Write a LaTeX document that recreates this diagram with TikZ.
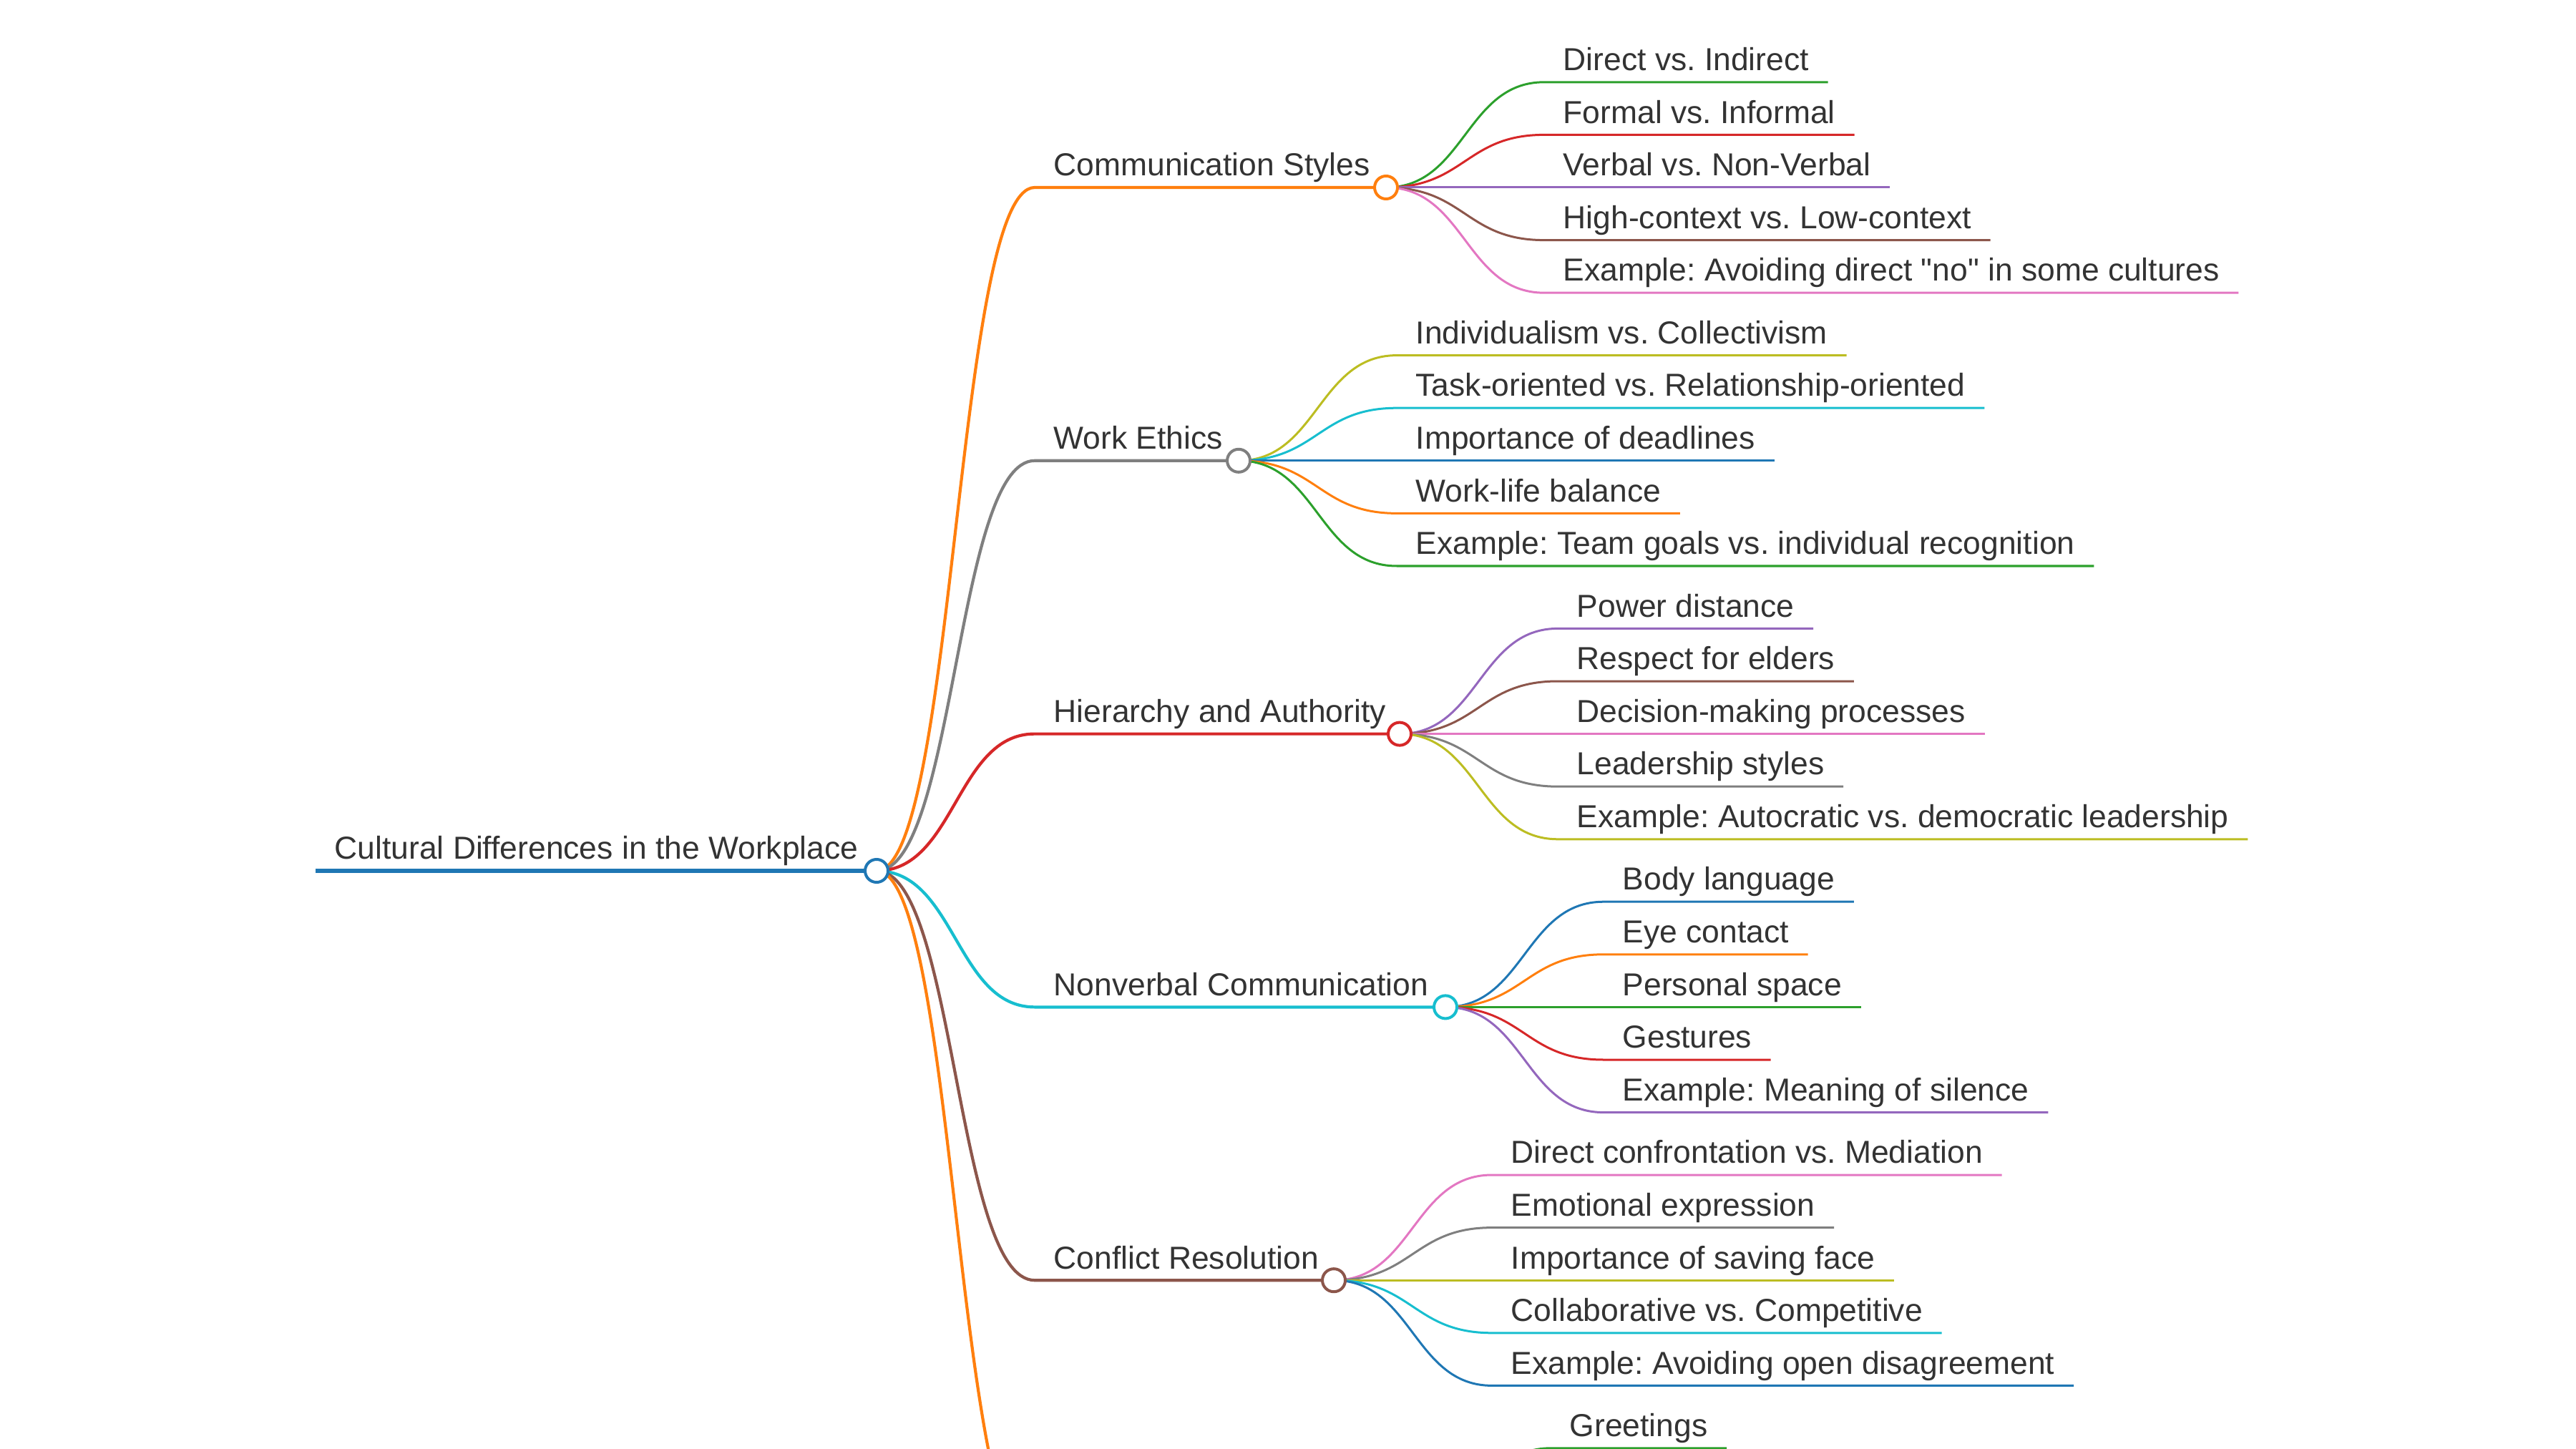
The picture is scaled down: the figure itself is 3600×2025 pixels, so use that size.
\documentclass[tikz,border=0pt]{standalone}
\usepackage{fontspec}
\setmainfont{Liberation Sans}
\usepackage{tikz}
\usetikzlibrary{positioning}
\usetikzlibrary{calc}
\usepackage{xcolor}

\definecolor{ink}{HTML}{333333}
\definecolor{tabblue}{HTML}{1F77B4}
\definecolor{taborange}{HTML}{FF7F0E}
\definecolor{tabgreen}{HTML}{2CA02C}
\definecolor{tabred}{HTML}{D62728}
\definecolor{tabpurple}{HTML}{9467BD}
\definecolor{tabbrown}{HTML}{8C564B}
\definecolor{tabpink}{HTML}{E377C2}
\definecolor{tabgray}{HTML}{7F7F7F}
\definecolor{tabolive}{HTML}{BCBD22}
\definecolor{tabcyan}{HTML}{17BECF}

\newcommand{\topicfont}{\fontsize{12.63}{15}\selectfont\frenchspacing}

\begin{document}
\begin{tikzpicture}[x=0.01cm, y=-0.01cm,
        topic/.style={anchor=south west, inner xsep=0.26cm, inner ysep=0.155cm,
            text depth=0pt, text=ink, font=\topicfont},
        dot/.style={circle, fill=white, line width=0.04cm, minimum size=0.32cm, inner sep=0pt},
        trunk/.style={line width=0.065cm},
        branch/.style={line width=0.042cm},
        twig/.style={line width=0.03cm},
        link/.style={to path={.. controls +(110,0) and +(-110,0) .. (\tikztotarget)}}]
            \useasboundingbox (0,0) rectangle (3600,2025);
            \clip (0,0) rectangle (3600,2025);

            % root
            \node[topic] (root) at (441,1217) {Cultural Differences in the Workplace};
            \coordinate (rootc) at (1225,1217);
            \draw[tabblue, trunk] (root.south west) -- (rootc);

            % main topics
            \node[topic] (comm) at (1446,262) {Communication Styles};
            \node[topic] (ethic) at (1446,643.8) {Work Ethics};
            \node[topic] (hier) at (1446,1025.6) {Hierarchy and Authority};
            \node[topic] (nonv) at (1446,1407.4) {Nonverbal Communication};
            \node[topic] (conf) at (1446,1789.2) {Conflict Resolution};
            \coordinate (sixth) at (1446,2171);
            \coordinate (commc) at (1937,262);
            \coordinate (ethicc) at (1731,643.8);
            \coordinate (hierc) at (1956,1025.6);
            \coordinate (nonvc) at (2020,1407.4);
            \coordinate (confc) at (1864,1789.2);
            \coordinate (sixthc) at (1946,2171);
            \draw[taborange, branch] (rootc) to[link] (comm.south west) -- (commc);
            \draw[tabgray, branch] (rootc) to[link] (ethic.south west) -- (ethicc);
            \draw[tabred, branch] (rootc) to[link] (hier.south west) -- (hierc);
            \draw[tabcyan, branch] (rootc) to[link] (nonv.south west) -- (nonvc);
            \draw[tabbrown, branch] (rootc) to[link] (conf.south west) -- (confc);
            \draw[taborange, branch] (rootc) to[link] (sixth) -- (sixthc);

            % communication styles
            \node[topic] (comm1) at (2158,114.8) {Direct vs. Indirect};
            \node[topic] (comm2) at (2158,188.4) {Formal vs. Informal};
            \node[topic] (comm3) at (2158,262) {Verbal vs. Non-Verbal};
            \node[topic] (comm4) at (2158,335.6) {High-context vs. Low-context};
            \node[topic] (comm5) at (2158,409.2) {Example: Avoiding direct \textquotedbl no\textquotedbl\ in some cultures};
            \draw[tabgreen, twig] (commc) to[link] (comm1.south west) -- (comm1.south east);
            \draw[tabred, twig] (commc) to[link] (comm2.south west) -- (comm2.south east);
            \draw[tabpurple, twig] (commc) to[link] (comm3.south west) -- (comm3.south east);
            \draw[tabbrown, twig] (commc) to[link] (comm4.south west) -- (comm4.south east);
            \draw[tabpink, twig] (commc) to[link] (comm5.south west) -- (comm5.south east);

            % work ethics
            \node[topic] (ethic1) at (1952,496.6) {Individualism vs. Collectivism};
            \node[topic] (ethic2) at (1952,570.2) {Task-oriented vs. Relationship-oriented};
            \node[topic] (ethic3) at (1952,643.8) {Importance of deadlines};
            \node[topic] (ethic4) at (1952,717.4) {Work-life balance};
            \node[topic] (ethic5) at (1952,791) {Example: Team goals vs. individual recognition};
            \draw[tabolive, twig] (ethicc) to[link] (ethic1.south west) -- (ethic1.south east);
            \draw[tabcyan, twig] (ethicc) to[link] (ethic2.south west) -- (ethic2.south east);
            \draw[tabblue, twig] (ethicc) to[link] (ethic3.south west) -- (ethic3.south east);
            \draw[taborange, twig] (ethicc) to[link] (ethic4.south west) -- (ethic4.south east);
            \draw[tabgreen, twig] (ethicc) to[link] (ethic5.south west) -- (ethic5.south east);

            % hierarchy and authority
            \node[topic] (hier1) at (2177,878.4) {Power distance};
            \node[topic] (hier2) at (2177,952) {Respect for elders};
            \node[topic] (hier3) at (2177,1025.6) {Decision-making processes};
            \node[topic] (hier4) at (2177,1099.2) {Leadership styles};
            \node[topic] (hier5) at (2177,1172.8) {Example: Autocratic vs. democratic leadership};
            \draw[tabpurple, twig] (hierc) to[link] (hier1.south west) -- (hier1.south east);
            \draw[tabbrown, twig] (hierc) to[link] (hier2.south west) -- (hier2.south east);
            \draw[tabpink, twig] (hierc) to[link] (hier3.south west) -- (hier3.south east);
            \draw[tabgray, twig] (hierc) to[link] (hier4.south west) -- (hier4.south east);
            \draw[tabolive, twig] (hierc) to[link] (hier5.south west) -- (hier5.south east);

            % nonverbal communication
            \node[topic] (nonv1) at (2241,1260.2) {Body language};
            \node[topic] (nonv2) at (2241,1333.8) {Eye contact};
            \node[topic] (nonv3) at (2241,1407.4) {Personal space};
            \node[topic] (nonv4) at (2241,1481) {Gestures};
            \node[topic] (nonv5) at (2241,1554.6) {Example: Meaning of silence};
            \draw[tabblue, twig] (nonvc) to[link] (nonv1.south west) -- (nonv1.south east);
            \draw[taborange, twig] (nonvc) to[link] (nonv2.south west) -- (nonv2.south east);
            \draw[tabgreen, twig] (nonvc) to[link] (nonv3.south west) -- (nonv3.south east);
            \draw[tabred, twig] (nonvc) to[link] (nonv4.south west) -- (nonv4.south east);
            \draw[tabpurple, twig] (nonvc) to[link] (nonv5.south west) -- (nonv5.south east);

            % conflict resolution
            \node[topic] (conf1) at (2085,1642) {Direct confrontation vs. Mediation};
            \node[topic] (conf2) at (2085,1715.6) {Emotional expression};
            \node[topic] (conf3) at (2085,1789.2) {Importance of saving face};
            \node[topic] (conf4) at (2085,1862.8) {Collaborative vs. Competitive};
            \node[topic] (conf5) at (2085,1936.4) {Example: Avoiding open disagreement};
            \draw[tabpink, twig] (confc) to[link] (conf1.south west) -- (conf1.south east);
            \draw[tabgray, twig] (confc) to[link] (conf2.south west) -- (conf2.south east);
            \draw[tabolive, twig] (confc) to[link] (conf3.south west) -- (conf3.south east);
            \draw[tabcyan, twig] (confc) to[link] (conf4.south west) -- (conf4.south east);
            \draw[tabblue, twig] (confc) to[link] (conf5.south west) -- (conf5.south east);

            % last branch, cut by the page edge
            \node[topic] (greet) at (2167,2023.8) {Greetings};
            \draw[tabgreen, twig] (sixthc) to[link] (greet.south west) -- (greet.south east);

            % circles on top
            \node[dot, draw=tabblue] at (rootc) {};
            \node[dot, draw=taborange] at (commc) {};
            \node[dot, draw=tabgray] at (ethicc) {};
            \node[dot, draw=tabred] at (hierc) {};
            \node[dot, draw=tabcyan] at (nonvc) {};
            \node[dot, draw=tabbrown] at (confc) {};
        \end{tikzpicture}
\end{document}
